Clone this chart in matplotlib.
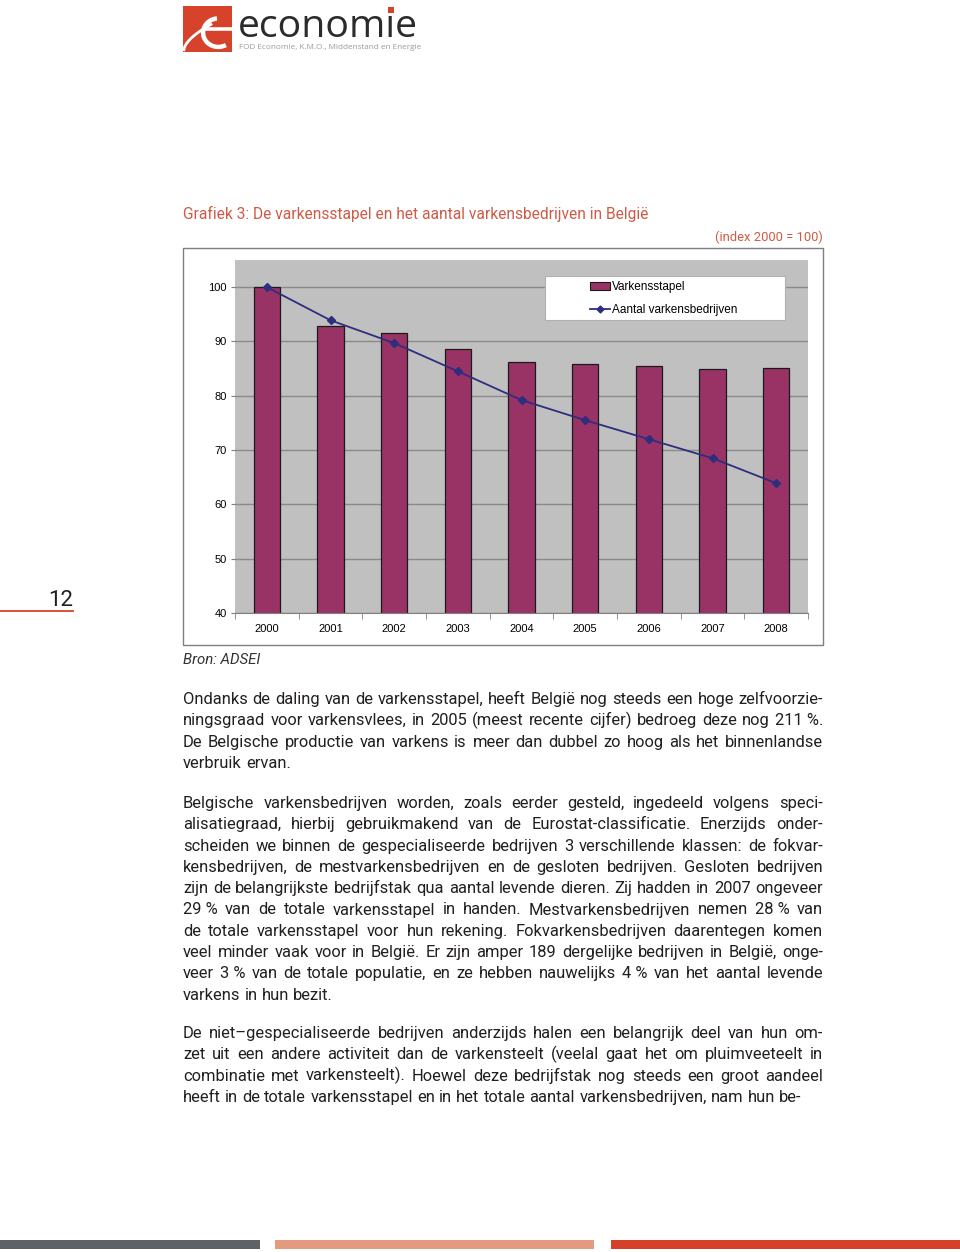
import matplotlib
matplotlib.use('Agg')
import matplotlib.pyplot as plt
from matplotlib.patches import Rectangle, Arc
from matplotlib.lines import Line2D
import numpy as np

# ---------------- data ----------------
years = ['2000', '2001', '2002', '2003', '2004', '2005', '2006', '2007', '2008']
varkensstapel = [100, 92.8, 91.5, 88.7, 86.3, 85.8, 85.4, 84.9, 85.1]
varkensbedrijven = [100, 93.9, 89.7, 84.5, 79.2, 75.5, 72.0, 68.5, 63.9]
yticks = [40, 50, 60, 70, 80, 90, 100]
series_labels = ['Varkensstapel', 'Aantal varkensbedrijven']

title = 'Grafiek 3: De varkensstapel en het aantal varkensbedrijven in België'
index_note = '(index 2000 = 100)'
source = 'Bron: ADSEI'

par1 = [
    "Ondanks de daling van de varkensstapel, heeft België nog steeds een hoge zelfvoorzie-",
    "ningsgraad voor varkensvlees, in 2005 (meest recente cijfer) bedroeg deze nog 211\u00a0%.",
    "De Belgische productie van varkens is meer dan dubbel zo hoog als het binnenlandse",
    "verbruik ervan.",
]
par2 = [
    "Belgische varkensbedrijven worden, zoals eerder gesteld, ingedeeld volgens speci-",
    "alisatiegraad, hierbij gebruikmakend van de Eurostat-classificatie. Enerzijds onder-",
    "scheiden we binnen de gespecialiseerde bedrijven 3 verschillende klassen: de fokvar-",
    "kensbedrijven, de mestvarkensbedrijven en de gesloten bedrijven. Gesloten bedrijven",
    "zijn de belangrijkste bedrijfstak qua aantal levende dieren. Zij hadden in 2007 ongeveer",
    "29\u00a0% van de totale varkensstapel in handen. Mestvarkensbedrijven nemen 28\u00a0% van",
    "de totale varkensstapel voor hun rekening. Fokvarkensbedrijven daarentegen komen",
    "veel minder vaak voor in België. Er zijn amper 189 dergelijke bedrijven in België, onge-",
    "veer 3\u00a0% van de totale populatie, en ze hebben nauwelijks 4\u00a0% van het aantal levende",
    "varkens in hun bezit.",
]
par3 = [
    "De niet–gespecialiseerde bedrijven anderzijds halen een belangrijk deel van hun om-",
    "zet uit een andere activiteit dan de varkensteelt (veelal gaat het om pluimveeteelt in",
    "combinatie met varkensteelt). Hoewel deze bedrijfstak nog steeds een groot aandeel",
    "heeft in de totale varkensstapel en in het totale aantal varkensbedrijven, nam hun be-",
]

# ---------------- figure ----------------
W, H = 960, 1252
fig = plt.figure(figsize=(W / 100, H / 100), dpi=100)
renderer = fig.canvas.get_renderer()

page = fig.add_axes([0, 0, 1, 1])
page.set_xlim(0, W)
page.set_ylim(H, 0)
page.axis('off')

RED = '#d7422b'
TITLE_RED = '#cf5a45'
BODY = '#231f20'
BODY_FONT = 'Roboto'
CHART_FONT = 'Liberation Sans'


def measure(s, **kw):
    t = fig.text(0, 0, s, **kw)
    w = t.get_window_extent(renderer).width
    t.remove()
    return w


def fit_size(s, target, **kw):
    return 10 * target / measure(s, fontsize=10, **kw)


# ---- logo ----
page.add_patch(Rectangle((183, 6), 49, 46, facecolor=RED, edgecolor='none'))
logo = fig.add_axes([183 / W, 1 - 52 / H, 49 / W, 46 / H])
logo.set_xlim(0, 1)
logo.set_ylim(0, 1)
logo.axis('off')
logo.add_patch(Arc((0.72, 0.42), 0.62, 0.62, theta1=95, theta2=300, color='white', lw=3.2))
logo.plot([0.42, 1.0], [0.5, 0.5], color='white', lw=2.6)
tt = np.linspace(0, 1, 50)
logo.plot(0.02 + 0.55 * tt, 0.05 + 0.55 * tt ** 0.6, color='white', lw=2.0)

eco_kw = dict(family='Open Sans')
fs_eco = fit_size('economie', 180, **eco_kw)
eco_word = 'econom\u0131e'
page.text(238, 37, eco_word, fontsize=fs_eco, color='#2b2b2b',
          ha='left', va='baseline', **eco_kw)
x_i0 = 238 + measure('econom', fontsize=fs_eco, **eco_kw)
x_i1 = 238 + measure('econom\u0131', fontsize=fs_eco, **eco_kw)
xc = (x_i0 + x_i1) / 2
page.add_patch(Rectangle((xc - 2.8, 7), 5.6, 5.6, facecolor=RED, edgecolor='none'))
sub = 'FOD Economie, K.M.O., Middenstand en Energie'
fs_sub = fit_size(sub, 182, **eco_kw)
page.text(239, 49, sub, fontsize=fs_sub, color='#9a9a9a',
          ha='left', va='baseline', **eco_kw)

# ---- title ----
fs_title = fit_size(title, 465, family=BODY_FONT)
page.text(183, 219, title, fontsize=fs_title, family=BODY_FONT, color=TITLE_RED,
          ha='left', va='baseline')
fs_idx = fit_size(index_note, 108, family=BODY_FONT)
page.text(823, 241, index_note, fontsize=fs_idx, family=BODY_FONT, color=TITLE_RED,
          ha='right', va='baseline')

# ---- page number ----
page.text(73, 606, '12', fontsize=16, family=BODY_FONT, color=BODY, ha='right', va='baseline')
page.plot([0, 73], [611, 611], color=RED, lw=1.3)

# ---- chart frame ----
page.add_patch(Rectangle((183, 248), 640, 397, facecolor='white', edgecolor='#7f7f7f', lw=1.0))

ax = fig.add_axes([235 / W, 1 - 613 / H, (808 - 235) / W, (613 - 260) / H])
ax.set_facecolor('#c0c0c0')
x = np.arange(len(years))
ax.set_axisbelow(True)
ax.yaxis.grid(True, color='#8a8a8a', lw=1.0)
ax.bar(x, varkensstapel, width=0.41, color='#993366', edgecolor='#1a1a1a', lw=0.9, zorder=2)
ax.plot(x, varkensbedrijven, color='#2e2d7e', lw=1.3, marker='D', markersize=4,
        markerfacecolor='#2e2d7e', markeredgecolor='#2e2d7e', zorder=3)
ax.set_xlim(-0.5, len(years) - 0.5)
ax.set_ylim(40, 105)
ax.set_yticks(yticks)
ax.set_yticklabels([str(v) for v in yticks], fontsize=8, family=CHART_FONT)
ax.set_xticks(x)
ax.set_xticklabels(years, fontsize=8, family=CHART_FONT)
ax.set_xticks(np.arange(-0.5, len(years)), minor=True)
ax.tick_params(axis='x', which='major', length=0, pad=8)
ax.tick_params(axis='x', which='minor', length=4, color='#808080', direction='out')
ax.tick_params(axis='y', length=3, color='#808080', pad=3)
for s in ['top', 'right', 'left']:
    ax.spines[s].set_visible(False)
ax.spines['bottom'].set_color('#808080')

# legend box
lx0 = (545 - 235) / 573
ly0 = (613 - 320) / 353
ax.add_patch(Rectangle((lx0, ly0), (785 - 545) / 573, 44 / 353, transform=ax.transAxes,
                       facecolor='white', edgecolor='#b0b0b0', lw=0.8, zorder=4))
handles = [Rectangle((0, 0), 1, 1, facecolor='#993366', edgecolor='#1a1a1a', lw=0.8),
           Line2D([], [], color='#2e2d7e', lw=1.3, marker='D', markersize=3.5)]
leg = ax.legend(handles, series_labels, loc='upper left',
                bbox_to_anchor=((590 - 235) / 573, (613 - 281) / 353),
                frameon=False, prop={'family': CHART_FONT, 'size': 8.5},
                handlelength=1.7, handleheight=0.7, handletextpad=0.2,
                labelspacing=0.95, borderpad=0, borderaxespad=0)
leg.set_zorder(5)

# ---- source ----
fs_src = fit_size(source, 77, family=BODY_FONT, style='italic')
page.text(183, 664, source, fontsize=fs_src, family=BODY_FONT, style='italic',
          color='#333333', ha='left', va='baseline')

# ---- justified paragraphs ----
LEFT, RIGHT = 183, 823


def natural_width(line, fs):
    kw = dict(fontsize=fs, family=BODY_FONT)
    sp = measure('x x', **kw) - measure('xx', **kw)
    words = [w.replace('\u00a0', ' ') for w in line.split(' ')]
    return sum(measure(w, **kw) for w in words) + sp * (len(words) - 1)


full_lines = par1[:-1] + par2[:-1] + par3
max_nat = max(natural_width(l, 10) for l in full_lines)
BFS = 10 * (RIGHT - LEFT) / max_nat * 0.995
body_kw = dict(fontsize=BFS, family=BODY_FONT)
space_w = measure('x x', **body_kw) - measure('xx', **body_kw)


def draw_par(lines, y0, lead=21.3):
    for i, line in enumerate(lines):
        words = [w.replace('\u00a0', ' ') for w in line.split(' ')]
        widths = [measure(w, **body_kw) for w in words]
        last = (i == len(lines) - 1)
        if last or len(words) == 1:
            gap = space_w
        else:
            gap = (RIGHT - LEFT - sum(widths)) / (len(words) - 1)
        xx = LEFT
        y = y0 + i * lead
        for w, wd in zip(words, widths):
            page.text(xx, y, w, ha='left', va='baseline', color=BODY, **body_kw)
            xx += wd + gap


draw_par(par1, 704)
draw_par(par2, 808)
draw_par(par3, 1038)

# ---- footer bars ----
page.add_patch(Rectangle((0, 1240), 260, 9, facecolor='#5e6266', edgecolor='none'))
page.add_patch(Rectangle((275, 1240), 319, 9, facecolor='#e49a7e', edgecolor='none'))
page.add_patch(Rectangle((611, 1240), 349, 9, facecolor='#d5402a', edgecolor='none'))

fig.savefig('out.png', dpi=100)
